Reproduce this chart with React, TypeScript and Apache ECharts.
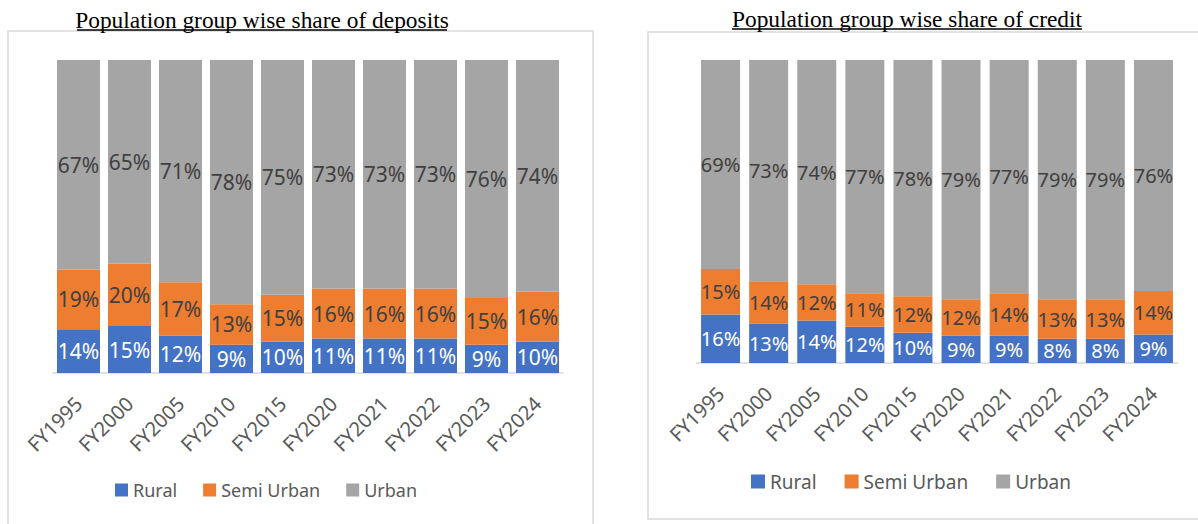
import React, { useEffect, useRef } from "react";
import * as echarts from "echarts";

const categories = ["FY1995", "FY2000", "FY2005", "FY2010", "FY2015", "FY2020", "FY2021", "FY2022", "FY2023", "FY2024"];
const seriesNames = ["Rural", "Semi Urban", "Urban"];

const depositRural = [14, 15, 12, 9, 10, 11, 11, 11, 9, 10];
const depositSemiUrban = [19, 20, 17, 13, 15, 16, 16, 16, 15, 16];
const depositUrban = [67, 65, 71, 78, 75, 73, 73, 73, 76, 74];

const creditRural = [16, 13, 14, 12, 10, 9, 9, 8, 8, 9.4];
const creditSemiUrban = [15, 14, 12, 11, 12, 12, 14, 13, 13, 14.4];
const creditUrban = [69, 73, 74, 77, 78, 79, 77, 79, 79, 76.2];

const depositTitle = "Population group wise share of deposits";
const creditTitle = "Population group wise share of credit";

const colors = ["#4472C4", "#ED7D31", "#A5A5A5"];
const labelColors = ["#FFFFFF", "#404040", "#404040"];
const FONT = "'Noto Sans', sans-serif";

export default function App() {
  const ref = useRef<HTMLDivElement>(null);
  useEffect(() => {
    if (!ref.current) return;
    const chart = echarts.init(ref.current, null, { renderer: "svg" });
    const mk = (name: string, idx: number, data: number[], axis: number, stack: string, fs: number, bw: number) => ({
      type: "bar",
      name,
      stack,
      xAxisIndex: axis,
      yAxisIndex: axis,
      data,
      barWidth: bw,
      itemStyle: { color: colors[idx] },
      label: {
        show: true,
        position: "inside",
        color: labelColors[idx],
        fontSize: fs,
        fontFamily: FONT,
        formatter: (p: any) => Math.round(p.value) + "%",
      },
    });
    const xAxisBase = (grid: number, fs: number, margin: number) => ({
      type: "category",
      gridIndex: grid,
      data: categories,
      axisLine: { lineStyle: { color: "#D9D9D9", width: 1.5 } },
      axisTick: { show: false },
      axisLabel: { rotate: 45, color: "#595959", fontSize: fs, fontFamily: FONT, margin },
    });
    const legendBase = (left: number, top: number, fs: number, size: number, gap: number) => ({
      left,
      top,
      padding: 0,
      data: seriesNames,
      icon: "rect",
      itemWidth: size,
      itemHeight: size,
      itemGap: gap,
      textStyle: { color: "#595959", fontSize: fs, fontFamily: FONT },
    });
    chart.setOption({
      animation: false,
      backgroundColor: "#FFFFFF",
      grid: [
        { left: 53, width: 510, top: 60, height: 313 },
        { left: 696.5, width: 481, top: 60, height: 303 },
      ],
      xAxis: [xAxisBase(0, 20, 27), xAxisBase(1, 20, 27)],
      yAxis: [
        { type: "value", gridIndex: 0, min: 0, max: 100, show: false },
        { type: "value", gridIndex: 1, min: 0, max: 100, show: false },
      ],
      legend: [legendBase(115, 481, 18, 13, 26), legendBase(751, 472, 19, 14, 28)],
      graphic: [
        { type: "rect", shape: { x: 8, y: 31, width: 585, height: 600 }, style: { fill: "none", stroke: "#D9D9D9", lineWidth: 1.5 }, z: -1 },
        { type: "rect", shape: { x: 648, y: 32, width: 600, height: 487 }, style: { fill: "none", stroke: "#D9D9D9", lineWidth: 1.5 }, z: -1 },
        { type: "text", x: 262, y: 31, style: { text: depositTitle, font: "23.4px 'Liberation Serif'", fill: "#000", textAlign: "center", textVerticalAlign: "bottom" } },
        { type: "line", shape: { x1: 77, y1: 30, x2: 447, y2: 30 }, style: { stroke: "#000", lineWidth: 1.5 } },
        { type: "text", x: 907, y: 30, style: { text: creditTitle, font: "23.4px 'Liberation Serif'", fill: "#000", textAlign: "center", textVerticalAlign: "bottom" } },
        { type: "line", shape: { x1: 732, y1: 29, x2: 1082, y2: 29 }, style: { stroke: "#000", lineWidth: 1.5 } },
      ],
      series: [
        mk("Rural", 0, depositRural, 0, "d", 21, 43),
        mk("Semi Urban", 1, depositSemiUrban, 0, "d", 21, 43),
        mk("Urban", 2, depositUrban, 0, "d", 21, 43),
        mk("Rural", 0, creditRural, 1, "c", 20, 39),
        mk("Semi Urban", 1, creditSemiUrban, 1, "c", 20, 39),
        mk("Urban", 2, creditUrban, 1, "c", 20, 39),
      ],
    });
    return () => chart.dispose();
  }, []);
  return <div ref={ref} style={{ position: "fixed", left: 0, top: 0, width: 1198, height: 524 }} />;
}
